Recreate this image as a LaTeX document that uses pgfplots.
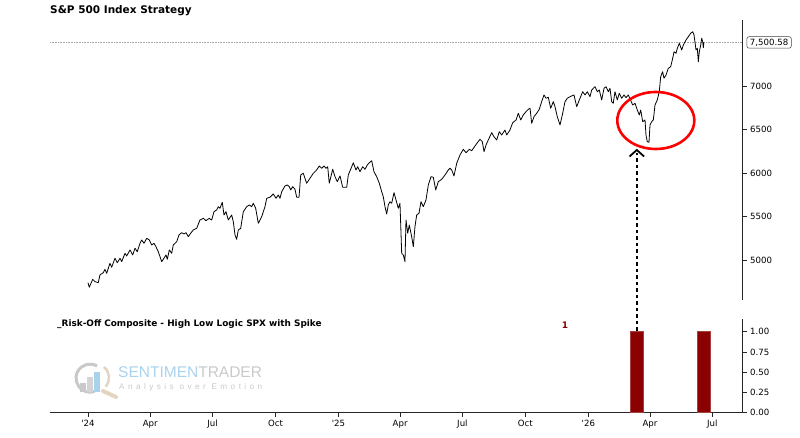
\documentclass[border=0pt]{standalone}
\usepackage{fontspec}
\setmainfont{DejaVu Sans}
\newfontfamily\wmfont{Liberation Sans}
\usepackage{pgfplots}
\pgfplotsset{compat=1.18}
\definecolor{barred}{HTML}{8B0000}
\definecolor{wmblue}{HTML}{A9D3EC}
\definecolor{wmgray}{HTML}{C9C9C9}
\definecolor{wmtan}{HTML}{E2D6C2}

\pgfplotstableread{
day price
0 4739
1.9 4686
6.9 4778
10.2 4751
15.0 4739
17.5 4828
22.4 4854
24.8 4893
27.3 4847
32.1 4962
34.6 4916
39.4 5020
42.8 4969
46.8 5020
49.2 4981
54.1 5077
56.5 5046
61.4 5115
65.3 5058
68.7 5135
72.0 5095
76.0 5192
78.5 5230
81.8 5192
85.8 5249
89.6 5230
93.1 5172
96.4 5192
99.3 5153
102.7 5095
107.7 4981
111.0 5020
114.0 5058
115.9 5008
118.8 5115
122.3 5077
124.6 5172
129.6 5210
132.9 5287
136.9 5314
140.3 5299
143.2 5314
146.5 5268
150.0 5307
153.8 5345
158.8 5364
163.6 5460
168.5 5479
172.4 5452
177.2 5479
178.2 5471
180.7 5460
184.1 5555
188.0 5575
190.4 5613
192.8 5594
196.2 5663
198.7 5517
201.6 5555
205.0 5460
209.9 5517
212.3 5440
214.8 5287
217.2 5238
219.6 5345
223.1 5364
226.9 5555
231.9 5613
235.7 5632
239.2 5613
241.5 5652
245.0 5594
248.8 5422
253.8 5498
258.6 5613
261.1 5709
265.9 5721
270.7 5759
274.7 5709
278.0 5747
280.5 5709
283.0 5785
287.8 5851
291.2 5862
294.1 5843
296.1 5805
299.1 5843
302.4 5813
304.9 5721
308.3 5721
310.8 5977
314.5 5997
317.0 5939
319.5 5882
324.3 5939
329.2 5997
334.1 6035
337.9 6080
341.4 6054
344.8 6080
347.7 6054
350.2 6072
352.5 5882
357.5 6043
360.9 5957
364.2 5900
368.2 5966
372.1 5836
378.0 5836
380.3 5977
385.3 6072
387.6 6118
391.5 6035
394.0 6072
397.4 6015
401.3 6072
404.7 6043
408.1 6092
411.0 6118
414.5 6141
417.8 6015
421.8 5957
425.6 5882
429.1 5785
431.4 5728
433.9 5613
436.4 5529
438.7 5632
441.2 5670
443.7 5652
447.1 5774
450.0 5690
453.3 5594
455.8 5652
458.3 5077
460.6 5058
463.1 4981
464.6 5460
467.1 5307
469.4 5402
472.9 5268
475.3 5153
477.7 5383
480.2 5517
483.6 5537
486.5 5670
489.9 5613
493.8 5690
497.2 5862
501.1 5957
504.5 5951
508.0 5805
511.8 5900
516.8 5928
521.6 5977
526.4 6035
528.9 6054
531.4 6035
534.7 5966
538.7 6112
543.5 6207
548.3 6272
552.3 6233
557.1 6272
560.6 6256
565.4 6310
568.8 6348
572.7 6387
576.1 6360
578.6 6245
581.5 6322
584.8 6379
589.8 6463
593.1 6417
597.1 6379
600.9 6475
604.4 6437
609.2 6494
611.7 6437
616.5 6494
620.5 6578
625.3 6609
628.7 6686
632.2 6609
636.0 6667
639.9 6705
643.3 6732
645.8 6744
648.2 6571
651.6 6647
655.5 6686
659.3 6732
662.8 6820
666.2 6897
669.1 6859
672.5 6870
676.0 6744
679.8 6820
682.3 6762
685.6 6647
689.6 6552
693.5 6686
696.9 6820
700.2 6859
704.2 6877
710.0 6897
714.0 6762
717.8 6839
722.7 6934
726.1 6897
729.5 6934
733.4 6877
735.9 6954
740.7 6992
744.1 6934
747.0 6954
750.5 6839
753.9 6974
756.8 6992
760.2 6934
762.6 6974
765.1 6820
767.4 6801
769.9 6934
773.3 6839
776.2 6916
779.7 6859
783.1 6897
786.0 6866
789.4 6897
791.9 6851
795.8 6782
799.2 6801
802.5 6724
805.4 6667
807.5 6724
810.4 6590
813.8 6609
815.2 6437
817.1 6360
819.6 6353
821.1 6552
823.5 6590
825.9 6609
828.4 6782
831.7 6839
834.6 6934
836.7 7107
839.5 7164
841.5 7089
844.5 7126
847.8 7203
851.3 7222
854.2 7318
856.2 7394
859.1 7376
861.0 7433
863.9 7491
867.4 7414
869.8 7471
873.7 7529
877.1 7567
880.5 7606
883.5 7624
885.4 7586
888.3 7414
890.2 7433
891.7 7279
893.1 7394
895.2 7471
896.6 7548
898.1 7509
899.0 7440
899.8 7500.58
}\spx

\begin{document}
\begin{tikzpicture}
\path (0pt,0pt) rectangle (800pt,438pt);

% top panel
\begin{axis}[at={(50pt,138pt)}, anchor=south west, scale only axis,
  width=692.7pt, height=280pt,
  xmin=-55.5, xmax=956.5, ymin=4540, ymax=7758.6,
  axis x line=none, axis y line*=right,
  axis line style={line width=0.8pt, black!85},
  ytick={5000,5500,6000,6500,7000},
  tick align=outside, major tick length=4pt,
  tick style={line width=0.7pt, black!85},
  yticklabel style={font=\fontsize{8.6}{10}\selectfont},
  /pgf/number format/assume math mode=true,
  /pgf/number format/1000 sep={},
  clip=false]
  \addplot[gray!70, densely dotted, line width=0.6pt] coordinates {(-55.5,7500.58) (956.5,7500.58)};
  \addplot[black, line width=0.8pt, line join=round] table[x=day,y=price] {\spx};
  \node[anchor=west, draw=black!75, rounded corners=2pt, fill=white, line width=0.5pt,
        inner xsep=3pt, inner ysep=2pt, font=\fontsize{8.6}{10}\selectfont]
        at (axis cs:956.5,7500.58) [xshift=4pt] {7,500.58};
\end{axis}

% bottom panel
\begin{axis}[at={(50pt,25.3pt)}, anchor=south west, scale only axis,
  width=692.7pt, height=93.7pt,
  xmin=-55.5, xmax=956.5, ymin=0, ymax=1.157,
  axis x line*=bottom, axis y line*=right,
  axis line style={line width=0.8pt, black!85},
  xtick={0,91,182,274,366,456,547,639,731,821,912},
  xticklabels={\textquotesingle24,Apr,Jul,Oct,\textquotesingle25,Apr,Jul,Oct,\textquotesingle26,Apr,Jul},
  ytick={0,0.25,0.5,0.75,1},
  yticklabel={\pgfmathprintnumber[fixed,fixed zerofill,precision=2]{\tick}},
  tick align=outside, major tick length=4pt,
  tick style={line width=0.7pt, black!85},
  ticklabel style={font=\fontsize{8.6}{10}\selectfont},
  /pgf/number format/assume math mode=true,
  clip=false]
  \addplot[ybar, bar width=13pt, fill=barred, draw=barred!75!white, line width=0.6pt]
     coordinates {(801.4,1) (899.3,1)};
  \node[font=\bfseries\fontsize{9}{10}\selectfont, text=barred] at (axis cs:697,1.083) {1};
\end{axis}

% titles
\node[anchor=west, inner sep=0pt, font=\bfseries\fontsize{10.5}{12}\selectfont] at (50pt,427pt) {S\&P 500 Index Strategy};
\node[anchor=west, inner sep=0pt, font=\bfseries\fontsize{8.9}{10}\selectfont] at (57pt,114pt) {\_Risk-Off Composite - High Low Logic SPX with Spike};

% annotations
\draw[red, line width=2.6pt] (655.8pt,317.5pt) ellipse [x radius=38.5pt, y radius=28.5pt];
\draw[black, line width=2pt, dash pattern=on 3.5pt off 3pt] (636.8pt,107pt) -- (636.8pt,285pt);
\draw[black, line width=1.8pt] (629.5pt,281.5pt) -- (636.8pt,288pt) -- (644.1pt,281.5pt);

% watermark
\draw[wmgray, line width=3pt] (97pt,72pt) arc[start angle=60, end angle=290, radius=14pt];
\fill[wmgray] (80pt,46pt) rectangle (86pt,55pt);
\fill[wmgray!80] (87pt,46pt) rectangle (93pt,61pt);
\fill[wmblue] (94pt,46pt) rectangle (100pt,66pt);
\draw[wmtan, line width=2.5pt] (104pt,71pt) arc[start angle=50, end angle=-40, radius=14pt];
\draw[wmtan, line width=4pt, line cap=round] (103pt,47pt) -- (116pt,41pt);
\node[anchor=west, inner sep=0pt, font=\wmfont\fontsize{15.5}{16}\selectfont] at (118pt,66pt)
   {\textcolor{wmblue}{SENTIMEN}\textcolor{wmgray}{TRADER}};
\node[anchor=west, inner sep=0pt, font=\wmfont\fontsize{8.2}{10}\selectfont\addfontfeatures{LetterSpace=42}, text=wmgray] at (119pt,51pt)
   {Analysis over Emotion};
\end{tikzpicture}
\end{document}
